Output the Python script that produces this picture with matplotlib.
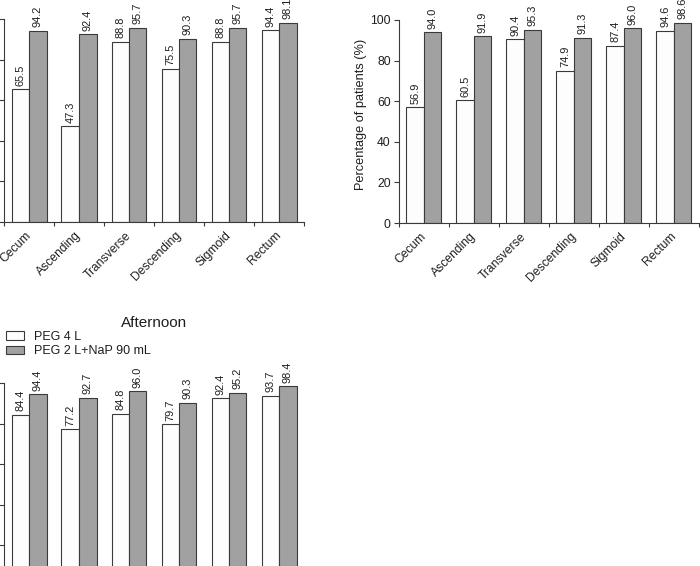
"""Bowel cleansing by colon segment: PEG 4 L vs PEG 2 L + NaP 90 mL"""
import matplotlib
matplotlib.use('Agg')  # no display
import matplotlib.pyplot as plt
import numpy as np

plt.rcParams['font.family'] = ['Liberation Sans', 'DejaVu Sans']

segments = ["Cecum", "Ascending", "Transverse", "Descending", "Sigmoid", "Rectum"]
series_names = ["PEG 4 L", "PEG 2 L+NaP 90 mL"]

# top-left panel
left_peg4 = [65.5, 47.3, 88.8, 75.5, 88.8, 94.4]
left_peg2 = [94.2, 92.4, 95.7, 90.3, 95.7, 98.1]
# top-right panel
right_peg4 = [56.9, 60.5, 90.4, 74.9, 87.4, 94.6]
right_peg2 = [94.0, 91.9, 95.3, 91.3, 96.0, 98.6]
# afternoon panel
aft_peg4 = [84.4, 77.2, 84.8, 79.7, 92.4, 93.7]
aft_peg2 = [94.4, 92.7, 96.0, 90.3, 95.2, 98.4]

W, H = 700, 566
WHITE = '#fdfdfd'
GREY = '#a1a1a1'
EDGE = '#3a3a3a'
TEXT = '#1e1e1e'


def px_axes(fig, left, top, width, height):
    """axes placed by pixel box (top measured from figure top)"""
    return fig.add_axes([left / W, 1 - (top + height) / H, width / W, height / H])


def draw_panel(ax, peg4, peg2, ylabel=None):
    x = np.arange(len(segments))
    bw = 0.35
    b1 = ax.bar(x + 0.5 - bw / 2, peg4, bw, color=WHITE, edgecolor=EDGE, linewidth=0.8)
    b2 = ax.bar(x + 0.5 + bw / 2, peg2, bw, color=GREY, edgecolor=EDGE, linewidth=0.8)

    for bars, vals in ((b1, peg4), (b2, peg2)):
        for rect, v in zip(bars, vals):
            ax.annotate(f"{v:.1f}", (rect.get_x() + rect.get_width() / 2, v),
                        xytext=(0, 2.5), textcoords='offset points',
                        rotation=90, ha='center', va='bottom',
                        fontsize=7.9, color=TEXT, annotation_clip=False)

    ax.set_xlim(0, len(segments))
    ax.set_ylim(0, 100)
    ax.set_yticks([0, 20, 40, 60, 80, 100])
    # tick marks at group boundaries, labels at group centres
    ax.set_xticks(np.arange(len(segments) + 1), minor=True)
    ax.set_xticks(x + 0.5)
    ax.set_xticklabels(segments, rotation=45, ha='right', va='center',
                       rotation_mode='anchor', fontsize=8.7, color=TEXT)
    ax.tick_params(axis='x', which='major', length=0, pad=8.5)
    ax.tick_params(axis='x', which='minor', length=3.2, width=0.8, color=EDGE)
    ax.tick_params(axis='y', length=3.5, width=0.8, color=EDGE, pad=2.5,
                   labelsize=8.7, labelcolor=TEXT)

    for side in ('top', 'right'):
        ax.spines[side].set_visible(False)
    for side in ('left', 'bottom'):
        ax.spines[side].set_color(EDGE)
        ax.spines[side].set_linewidth(0.8)

    if ylabel:
        ax.set_ylabel(ylabel, fontsize=9.2, color=TEXT, labelpad=2.5)
        ax.yaxis.label.set_y(0.535)
    return b1, b2


fig = plt.figure(figsize=(W / 100, H / 100), dpi=100)
fig.patch.set_facecolor('white')

ax_tl = px_axes(fig, 4, 19, 300, 203)
draw_panel(ax_tl, left_peg4, left_peg2)

ax_tr = px_axes(fig, 399, 20, 300, 203)
draw_panel(ax_tr, right_peg4, right_peg2, ylabel="Percentage of patients (%)")

ax_bl = px_axes(fig, 4, 383, 300, 203)
h1, h2 = draw_panel(ax_bl, aft_peg4, aft_peg2)
ax_bl.set_title("Afternoon", fontsize=11, color=TEXT, pad=40.5)

fig.legend([h1, h2], series_names, loc='upper left',
           bbox_to_anchor=(6 / W, 1 - 331 / H), frameon=False,
           fontsize=9, handlelength=1.45, handleheight=0.65,
           handletextpad=0.75, labelspacing=0.18, borderpad=0,
           borderaxespad=0, labelcolor=TEXT)

fig.savefig('out.png', dpi=100)
plt.close(fig)
